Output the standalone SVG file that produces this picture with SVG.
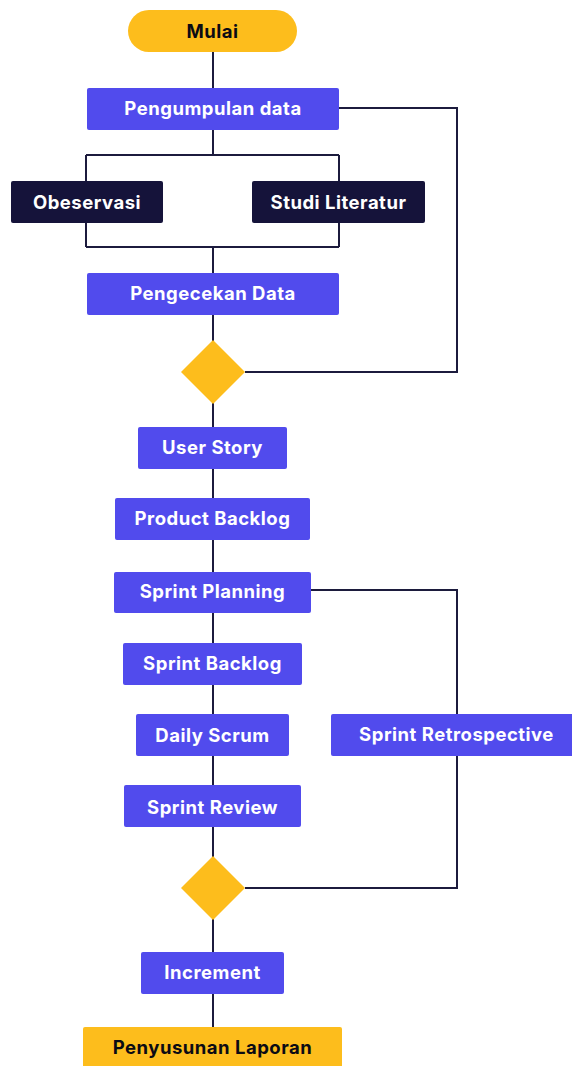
<svg xmlns="http://www.w3.org/2000/svg" width="572" height="1066" viewBox="0 0 572 1066">
  <style>
    .line { fill: none; stroke: #1c1b3d; stroke-width: 2; }
    .step { fill: #514bed; }
    .dark { fill: #15133a; }
    .term { fill: #fdbd1c; }
    .dec { fill: #fdbd1c; }
    text { font-family: Inter, "Liberation Sans", sans-serif; font-weight: 700; font-size: 18.5px; letter-spacing: 0.5px; text-anchor: middle; dominant-baseline: central; }
    .light { fill: #ffffff; }
    .ink { fill: #0b0b14; }
  </style>
  <rect width="572" height="1066" fill="#ffffff"/>

  <!-- connectors -->
  <g id="connectors">
    <path class="line" d="M213 52 V155"/>
    <path class="line" d="M86 155 H339 M86 155 V247 M339 155 V247 M86 247 H339"/>
    <path class="line" d="M213 247 V1027"/>
    <path class="line" d="M339 108 H457 V372 H245"/>
    <path class="line" d="M311 590 H457 V888 H245"/>
  </g>

  <g id="mulai">
    <rect class="term" x="128" y="10" width="169" height="42" rx="21"/>
    <text class="ink" x="212.5" y="31">Mulai</text>
  </g>
  <g id="pengumpulan-data">
    <rect class="step" x="87" y="88" width="252" height="42" rx="2"/>
    <text class="light" x="213" y="108">Pengumpulan data</text>
  </g>
  <g id="obeservasi">
    <rect class="dark" x="11" y="181" width="152" height="42" rx="2"/>
    <text class="light" x="87" y="202">Obeservasi</text>
  </g>
  <g id="studi-literatur">
    <rect class="dark" x="252" y="181" width="173" height="42" rx="2"/>
    <text class="light" x="338.5" y="202">Studi Literatur</text>
  </g>
  <g id="pengecekan-data">
    <rect class="step" x="87" y="273" width="252" height="42" rx="2"/>
    <text class="light" x="213" y="293">Pengecekan Data</text>
  </g>
  <g id="cek-data">
    <polygon class="dec" points="213,340 245,372 213,404 181,372"/>
  </g>
  <g id="user-story">
    <rect class="step" x="138" y="427" width="149" height="42" rx="2"/>
    <text class="light" x="212.5" y="447">User Story</text>
  </g>
  <g id="product-backlog">
    <rect class="step" x="115" y="498" width="195" height="42" rx="2"/>
    <text class="light" x="212.5" y="518">Product Backlog</text>
  </g>
  <g id="sprint-planning">
    <rect class="step" x="114" y="572" width="197" height="41" rx="2"/>
    <text class="light" x="212.5" y="591">Sprint Planning</text>
  </g>
  <g id="sprint-backlog">
    <rect class="step" x="123" y="643" width="179" height="42" rx="2"/>
    <text class="light" x="212.5" y="663">Sprint Backlog</text>
  </g>
  <g id="daily-scrum">
    <rect class="step" x="136" y="714" width="153" height="42" rx="2"/>
    <text class="light" x="212.5" y="735">Daily Scrum</text>
  </g>
  <g id="sprint-retrospective">
    <rect class="step" x="331" y="714" width="245" height="42" rx="2"/>
    <text class="light" x="456.5" y="734">Sprint Retrospective</text>
  </g>
  <g id="sprint-review">
    <rect class="step" x="124" y="785" width="177" height="42" rx="2"/>
    <text class="light" x="212.5" y="807">Sprint Review</text>
  </g>
  <g id="cek-sprint">
    <polygon class="dec" points="213,856 245,888 213,920 181,888"/>
  </g>
  <g id="increment">
    <rect class="step" x="141" y="952" width="143" height="42" rx="2"/>
    <text class="light" x="212.5" y="972">Increment</text>
  </g>
  <g id="penyusunan-laporan">
    <rect class="term" x="83" y="1027" width="259" height="45" rx="2"/>
    <text class="ink" x="212.5" y="1047">Penyusunan Laporan</text>
  </g>
</svg>
